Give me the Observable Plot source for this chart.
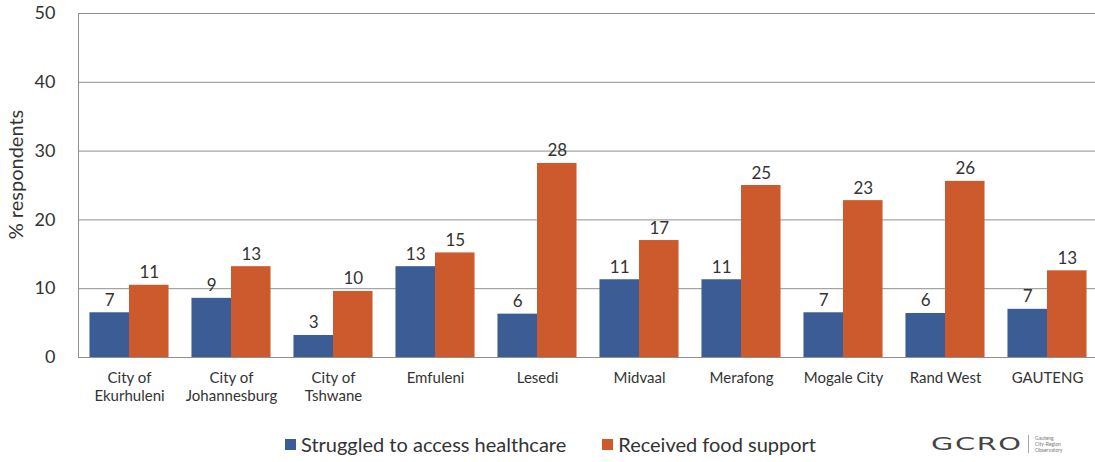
<!DOCTYPE html>
<html>
<head>
<meta charset="utf-8">
<script src="https://cdn.jsdelivr.net/npm/d3@7"></script>
<script src="https://cdn.jsdelivr.net/npm/@observablehq/plot@0.6"></script>
<style>
  html, body { margin: 0; padding: 0; background: #fff; overflow: hidden; }
  #wrap { position: relative; width: 1095px; height: 462px; font-family: Lato, "Open Sans", sans-serif; color: #333; }
  #chart svg { display: block; }
  .legend { position: absolute; top: 432px; left: 285px; display: flex; align-items: center; font-size: 20px; color: #333; }
  .legend .item { display: flex; align-items: center; }
  .legend .sw { width: 11px; height: 11px; margin-right: 5px; }
  .logo { position: absolute; top: 433px; left: 931px; display: flex; align-items: center; color: #444; }
  .logo .mark { font-family: "DejaVu Sans", sans-serif; font-size: 18px; letter-spacing: 1px; transform: scaleX(1.6); transform-origin: left center; width: 93px; white-space: nowrap; }
  .logo .sep { width: 1px; height: 18px; background: #aaa; margin: 0 6px 0 4px; }
  .logo .sub { font-size: 5px; line-height: 6px; color: #777; }
</style>
</head>
<body>
<div id="wrap">
  <div id="chart"></div>
  <div class="legend">
    <div class="item"><div class="sw" style="background:#3B5C94"></div>Struggled to access healthcare</div>
    <div class="item" style="margin-left:36px"><div class="sw" style="background:#CC5A2D"></div>Received food support</div>
  </div>
  <div class="logo"><div class="mark">GCRO</div><div class="sep"></div><div class="sub">Gauteng<br>City-Region<br>Observatory</div></div>
</div>
<script>
const cities = ["City of Ekurhuleni", "City of Johannesburg", "City of Tshwane", "Emfuleni", "Lesedi", "Midvaal", "Merafong", "Mogale City", "Rand West", "GAUTENG"];
const cityTickLabels = ["City of\nEkurhuleni", "City of\nJohannesburg", "City of\nTshwane", "Emfuleni", "Lesedi", "Midvaal", "Merafong", "Mogale City", "Rand West", "GAUTENG"];
const series = ["Struggled to access healthcare", "Received food support"];
const healthcare = [6.5, 8.6, 3.2, 13.2, 6.3, 11.3, 11.3, 6.5, 6.4, 7.0];
const foodSupport = [10.5, 13.2, 9.6, 15.2, 28.2, 17.0, 25.0, 22.8, 25.6, 12.6];
const yTicks = [0, 10, 20, 30, 40, 50];
const colors = ["#3B5C94", "#CC5A2D"];

const data = [];
cities.forEach((c, i) => {
  data.push({city: c, series: series[0], value: healthcare[i]});
  data.push({city: c, series: series[1], value: foodSupport[i]});
});

const gridColor = "#8f8f8f";
const chart = Plot.plot({
  width: 1095,
  height: 420,
  marginTop: 13,
  marginBottom: 63,
  marginLeft: 78,
  marginRight: -3,
  style: {fontFamily: "Lato, sans-serif", color: "#333", background: "#fff"},
  fx: {domain: cities, paddingInner: 0, paddingOuter: 0, round: false, label: null},
  x: {domain: series, paddingInner: 0, paddingOuter: 0.29, round: false, axis: null},
  y: {domain: [0, 50], axis: null},
  color: {domain: series, range: colors},
  marks: [
    Plot.gridY(yTicks.filter(t => t > 0), {stroke: gridColor, strokeOpacity: 1}),
    Plot.ruleY([0], {stroke: gridColor, strokeOpacity: 1}),
    Plot.frame({anchor: "left", stroke: gridColor, facetAnchor: "left"}),
    Plot.barY(data, {fx: "city", x: "series", y: "value", fill: "series"}),
    Plot.text(data, {fx: "city", x: "series", y: "value", text: d => String(Math.round(d.value)), dy: -7, lineAnchor: "bottom", fontSize: 17, fill: "#333"}),
    Plot.axisY({ticks: yTicks, tickSize: 0, tickPadding: 23, fontSize: 18, label: null}),
    Plot.text(["% respondents"], {frameAnchor: "left", rotate: -90, dx: -62, dy: -11, fontSize: 20, fill: "#333", facetAnchor: "left", lineAnchor: "middle", textAnchor: "middle"}),
    Plot.axisFx({anchor: "bottom", tickSize: 0, tickPadding: 13, fontSize: 15, lineHeight: 1.2, label: null, tickFormat: c => cityTickLabels[cities.indexOf(c)]})
  ]
});
document.getElementById("chart").appendChild(chart);
</script>
</body>
</html>
